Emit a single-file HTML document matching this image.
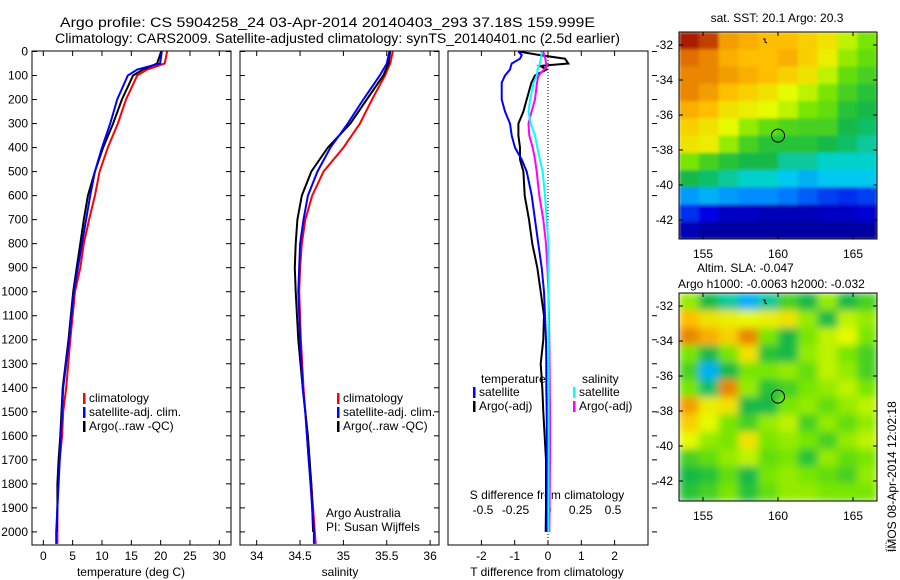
<!DOCTYPE html>
<html><head><meta charset="utf-8"><style>
body{margin:0;background:#fff;}
svg{display:block;font-family:"Liberation Sans",sans-serif;}
text{font-size:12px;fill:#000;}
</style></head><body>
<svg id="fig" width="900" height="580" viewBox="0 0 900 580">
<defs>
<filter id="blurS" x="0" y="0" width="1" height="1"><feGaussianBlur stdDeviation="1.5" edgeMode="duplicate"/></filter>
<filter id="blurL" x="0" y="0" width="1" height="1"><feGaussianBlur stdDeviation="4" edgeMode="duplicate"/></filter>
<clipPath id="clipm1"><rect x="679" y="32" width="198" height="207"/></clipPath>
<clipPath id="clipm2"><rect x="679" y="293" width="198" height="208"/></clipPath>
</defs>
<text x="60" y="27" style="font-size:13.5px" textLength="535" lengthAdjust="spacingAndGlyphs">Argo profile: CS 5904258_24 03-Apr-2014 20140403_293 37.18S 159.999E</text>
<text x="55" y="43" style="font-size:13.5px" textLength="565" lengthAdjust="spacingAndGlyphs">Climatology: CARS2009. Satellite-adjusted climatology: synTS_20140401.nc (2.5d earlier)</text>
<g id="p1"></g>
<g id="p2"></g>
<g id="p3"></g>
<g id="m1"></g>
<g id="m2"></g>
<text transform="translate(896,552) rotate(-90)" style="font-size:12px">IMOS 08-Apr-2014 12:02:18</text>
<rect x="886" y="542" width="8" height="9" fill="none" stroke="#000" stroke-width="0.7" stroke-dasharray="1,1"/>
</svg>
<script>
// ---- data ----
const depths = [0,50,75,100,200,300,400,500,600,700,800,900,1000,1200,1400,1500,1600,1700,1800,1900,2000,2050];
const tClim = [21.1,20.7,17.7,16.0,14.1,12.7,11.0,9.6,8.8,7.8,6.9,6.3,5.4,4.6,3.9,3.4,3.2,2.8,2.5,2.4,2.4,2.4];
const tSat  = [20.2,19.9,16.0,14.4,12.6,11.4,10.0,8.8,8.0,7.3,6.6,5.9,5.2,4.4,3.4,3.2,3.0,2.8,2.6,2.4,2.2,2.2];
const tArgo = [20.1,19.4,17.0,15.3,13.4,11.9,10.2,8.8,7.6,6.9,6.3,5.7,5.1,4.3,3.3,3.1,2.9,2.6,2.4,2.4,2.3,2.3];
const sClim = [35.57,35.54,35.51,35.48,35.33,35.19,35.0,34.77,34.64,34.56,34.52,34.50,34.49,34.51,34.54,34.56,34.58,34.60,34.63,34.65,34.67,34.68];
const sSat  = [35.53,35.50,35.46,35.42,35.23,35.05,34.85,34.70,34.59,34.54,34.50,34.49,34.48,34.50,34.53,34.56,34.58,34.60,34.62,34.64,34.66,34.66];
const sArgo = [35.54,35.52,35.49,35.46,35.27,35.08,34.82,34.63,34.52,34.47,34.45,34.44,34.45,34.48,34.53,34.56,34.59,34.61,34.63,34.64,34.65,34.65];
const dDepths = [0,15,30,50,60,75,100,130,200,250,300,350,400,450,500,600,700,800,900,1000,1100,1200,1300,1400,1500,1700,1900,2000];
const dTSat  = [-0.89,-0.79,-0.84,-1.09,-1.11,-1.14,-1.29,-1.39,-1.39,-1.29,-1.14,-1.09,-0.99,-0.79,-0.64,-0.49,-0.39,-0.29,-0.19,-0.12,-0.09,-0.06,-0.05,-0.05,-0.04,-0.03,-0.02,-0.02];
const dTArgo = [-0.89,-0.24,0.51,0.61,-0.24,-0.04,-0.39,-0.5,-0.64,-0.74,-0.89,-0.89,-0.84,-0.84,-0.74,-0.70,-0.57,-0.47,-0.32,-0.22,-0.12,-0.14,-0.22,-0.17,-0.14,-0.06,-0.06,-0.07];
const dSSat  = [-0.049,-0.05,-0.055,-0.062,-0.07,-0.08,-0.087,-0.11,-0.138,-0.15,-0.133,-0.1,-0.082,-0.062,-0.041,-0.023,-0.010,0.003,0.003,0.005,0.005,0.005,0.005,0.005,0.005,0.005,0.003,0.003];
const dSArgo = [-0.036,-0.03,-0.02,-0.015,-0.005,-0.03,-0.074,-0.085,-0.1,-0.126,-0.15,-0.144,-0.118,-0.1,-0.087,-0.067,-0.036,-0.015,-0.005,0.003,0.008,0.01,0.012,0.014,0.015,0.015,0.012,0.01];
const depthTicks = [0,100,200,300,400,500,600,700,800,900,1000,1100,1200,1300,1400,1500,1600,1700,1800,1900,2000];
const tTicks = [0,5,10,15,20,25,30];
const sTicks = [34,34.5,35,35.5,36];
const dTTicks = [-2,-1,0,1,2];
const dSTicks = [-0.5,-0.25,0,0.25,0.5];
const dSTickLabels = ['-0.5','-0.25','0','0.25','0.5'];
const latTicks = [-32,-34,-36,-38,-40,-42];
const lonTicks = [155,160,165];
const sstGrid = [
[0.97,0.93,0.82,0.80,0.78,0.78,0.75,0.72,0.65,0.60],
[0.88,0.85,0.80,0.78,0.78,0.80,0.75,0.70,0.62,0.58],
[0.85,0.85,0.82,0.80,0.78,0.75,0.72,0.65,0.58,0.55],
[0.85,0.82,0.78,0.75,0.72,0.68,0.65,0.60,0.55,0.52],
[0.80,0.78,0.72,0.70,0.68,0.65,0.60,0.58,0.52,0.50],
[0.75,0.72,0.68,0.62,0.58,0.56,0.55,0.55,0.50,0.48],
[0.72,0.70,0.62,0.55,0.52,0.52,0.52,0.50,0.48,0.45],
[0.60,0.55,0.52,0.50,0.50,0.45,0.45,0.42,0.42,0.42],
[0.50,0.48,0.45,0.42,0.42,0.38,0.35,0.38,0.38,0.38],
[0.32,0.35,0.32,0.30,0.30,0.28,0.25,0.22,0.20,0.22],
[0.20,0.15,0.10,0.10,0.08,0.08,0.08,0.10,0.10,0.12],
[0.08,0.05,0.05,0.05,0.05,0.05,0.05,0.05,0.05,0.05]];
const slaGrid = [
[0.62,0.50,0.45,0.35,0.45,0.55,0.50,0.62,0.50,0.55],
[0.78,0.72,0.70,0.68,0.70,0.72,0.62,0.50,0.65,0.62],
[0.85,0.80,0.75,0.85,0.60,0.50,0.60,0.65,0.68,0.60],
[0.60,0.50,0.60,0.72,0.52,0.50,0.62,0.65,0.60,0.55],
[0.55,0.35,0.50,0.60,0.60,0.62,0.58,0.65,0.62,0.55],
[0.60,0.48,0.85,0.62,0.52,0.55,0.60,0.62,0.65,0.60],
[0.82,0.70,0.72,0.50,0.50,0.60,0.62,0.58,0.62,0.65],
[0.75,0.68,0.60,0.55,0.62,0.65,0.55,0.62,0.58,0.62],
[0.68,0.62,0.60,0.72,0.60,0.62,0.60,0.55,0.62,0.65],
[0.55,0.58,0.62,0.65,0.58,0.60,0.52,0.62,0.58,0.60],
[0.50,0.52,0.58,0.50,0.60,0.62,0.60,0.58,0.55,0.62],
[0.52,0.55,0.60,0.52,0.58,0.62,0.62,0.60,0.60,0.60]];
const argoLon = 160.0, argoLat = -37.18;

// ---- helpers ----
const NS='http://www.w3.org/2000/svg';
function mk(parent, tag, attrs){const e=document.createElementNS(NS,tag);for(const k in attrs)e.setAttribute(k,attrs[k]);parent.appendChild(e);return e;}
function txt(parent,x,y,s,anchor){const e=mk(parent,'text',{x:x,y:y,'text-anchor':anchor||'start'});e.textContent=s;return e;}
const yD = d => 51.5 + d*0.2402;
const xT = t => 43.3 + t*5.867;
const xS = s => 256.7 + (s-34)*86.7;
const xdT = t => 548 + t*33.3;
const xdS = s => 548 + s*130;
const TOP=51, BOT=545;

function frame(g,x0,x1,name){
  const r=mk(g,'rect',{x:x0,y:TOP,width:x1-x0,height:BOT-TOP,fill:'none',stroke:'#000','stroke-width':1});
  
  
  depthTicks.forEach(d=>{const y=yD(d);
    mk(g,'line',{x1:x0,x2:x0+5,y1:y,y2:y,stroke:'#000'});
    mk(g,'line',{x1:x1-5,x2:x1,y1:y,y2:y,stroke:'#000'});});
}
function line(g,xs,ys,xf,color,name){
  const pts=xs.map((v,i)=>xf(v).toFixed(1)+','+yD(ys[i]).toFixed(1)).join(' ');
  const p=mk(g,'polyline',{points:pts,fill:'none',stroke:color,'stroke-width':2});
  
  
}
function legend(g,x,y,items){
  items.forEach((it,i)=>{
    mk(g,'rect',{x:x,y:y+i*14-9,width:2.5,height:11,fill:it[0]});
    const t=txt(g,x+6,y+i*14,it[1]);
    
    
  });
}

// ---- panel 1 ----
const p1=document.getElementById('p1');
frame(p1,32,231,'temperature-axes');
depthTicks.forEach(d=>{const t=txt(p1,28,yD(d)+4,String(d),'end');
  
  });
tTicks.forEach(v=>{const x=xT(v);
  mk(p1,'line',{x1:x,x2:x,y1:BOT,y2:BOT-5,stroke:'#000'});
  mk(p1,'line',{x1:x,x2:x,y1:TOP,y2:TOP+5,stroke:'#000'});
  const t=txt(p1,x,560,String(v),'middle');
  
  });
const xl1=txt(p1,131,576,'temperature (deg C)','middle');


line(p1,tClim,depths,xT,'#ff0000','temp-climatology-line');
line(p1,tArgo,depths.slice(0,21),xT,'#000','temp-argo-line');
line(p1,tSat,depths,xT,'#0000ff','temp-satellite-line');
legend(p1,83,402,[['#f00','climatology'],['#00f','satellite-adj. clim.'],['#000','Argo(..raw -QC)']]);

// ---- panel 2 ----
const p2=document.getElementById('p2');
frame(p2,240,439,'salinity-axes');
sTicks.forEach(v=>{const x=xS(v);
  mk(p2,'line',{x1:x,x2:x,y1:BOT,y2:BOT-5,stroke:'#000'});
  mk(p2,'line',{x1:x,x2:x,y1:TOP,y2:TOP+5,stroke:'#000'});
  const t=txt(p2,x,560,String(v),'middle');
  
  });
const xl2=txt(p2,340,576,'salinity','middle');


line(p2,sClim,depths,xS,'#ff0000','sal-climatology-line');
line(p2,sArgo,depths.slice(0,21),xS,'#000','sal-argo-line');
line(p2,sSat,depths,xS,'#0000ff','sal-satellite-line');
legend(p2,337,402,[['#f00','climatology'],['#00f','satellite-adj. clim.'],['#000','Argo(..raw -QC)']]);
const aa=txt(p2,326,517,'Argo Australia');
const pi=txt(p2,326,531,'PI: Susan Wijffels');

// ---- panel 3 ----
const p3=document.getElementById('p3');
const r3=mk(p3,'rect',{x:448,y:TOP,width:200,height:BOT-TOP,fill:'none',stroke:'#000'});


depthTicks.forEach(d=>{const y=yD(d);
  if(d<=600||d>=1100) mk(p3,'line',{x1:652,x2:657,y1:y,y2:y,stroke:'#000'});});
mk(p3,'line',{x1:548,x2:548,y1:TOP,y2:BOT,stroke:'#000','stroke-dasharray':'1,2'});
dTTicks.forEach(v=>{const x=xdT(v);
  mk(p3,'line',{x1:x,x2:x,y1:BOT,y2:BOT-5,stroke:'#000'});
  mk(p3,'line',{x1:x,x2:x,y1:TOP,y2:TOP+5,stroke:'#000'});
  const t=txt(p3,x,560,String(v),'middle');
  
  });
dSTicks.forEach((v,i)=>{const t=txt(p3,xdS(v),514,dSTickLabels[i],'middle');
  
  });
const sdt=txt(p3,547,499,'S difference from climatology','middle');

const tdt=txt(p3,547,576,'T difference from climatology','middle');

line(p3,dTArgo,dDepths,xdT,'#000','tdiff-argo-line');
line(p3,dTSat,dDepths,xdT,'#0000ff','tdiff-satellite-line');
line(p3,dSArgo,dDepths,xdS,'#ff00ff','sdiff-argo-line');
line(p3,dSSat,dDepths,xdS,'#00ffff','sdiff-satellite-line');
const th=txt(p3,481,383,'temperature');
const sh=txt(p3,582,383,'salinity');
legend(p3,473,396,[['#00f','satellite'],['#000','Argo(-adj)']]);
legend(p3,573,396,[['#0ff','satellite'],['#f0f','Argo(-adj)']]);

// ---- maps ----
const stops=[[0,[0,0,128]],[0.15,[0,0,230]],[0.3,[0,140,255]],[0.4,[0,215,235]],[0.5,[20,185,70]],[0.6,[120,230,0]],[0.68,[230,250,0]],[0.78,[255,190,0]],[0.88,[225,110,0]],[1,[150,0,0]]];
function cmap(v){for(let i=1;i<stops.length;i++){if(v<=stops[i][0]){const a=stops[i-1],b=stops[i],f=(v-a[0])/(b[0]-a[0]);
  return 'rgb('+a[1].map((c,k)=>Math.round(c+(b[1][k]-c)*f)).join(',')+')';}}return 'rgb(150,0,0)';}
function map(id,grid,y0,y1,titleLines,filt){
  const g=document.getElementById(id);
  const x0=679,x1=877;
  const yLat=lat=>y0+13+(-32-lat)*17.5;
  const xLon=lon=>703+(lon-155)*15;
  const clipG=mk(g,'g',{'clip-path':'url(#clip'+id+')'});
  const cellsG=mk(clipG,'g',{filter:'url(#'+filt+')'});
  const rows=grid.length,cols=grid[0].length,cw=(x1-x0)/cols,ch=(y1-y0)/rows;
  grid.forEach((row,r)=>row.forEach((v,c)=>{
    const cell=mk(cellsG,'rect',{x:(x0+c*cw).toFixed(2),y:(y0+r*ch).toFixed(2),width:(cw+0.6).toFixed(2),height:(ch+0.6).toFixed(2),fill:cmap(v)});
    
    
  }));
  const fr=mk(g,'rect',{x:x0,y:y0,width:x1-x0,height:y1-y0,fill:'none',stroke:'#000'});
  
  
  latTicks.forEach(l=>{const y=yLat(l);
    mk(g,'line',{x1:x0,x2:x0+4,y1:y,y2:y,stroke:'#000'});
    mk(g,'line',{x1:x1-4,x2:x1,y1:y,y2:y,stroke:'#000'});
    const t=txt(g,673,y+4,String(l),'end');
    
    });
  lonTicks.forEach(l=>{const x=xLon(l);
    mk(g,'line',{x1:x,x2:x,y1:y1,y2:y1-4,stroke:'#000'});
    mk(g,'line',{x1:x,x2:x,y1:y0,y2:y0+4,stroke:'#000'});
    const t=txt(g,x,y1+19,String(l),'middle');
    
    });
  const c=mk(g,'circle',{cx:xLon(argoLon),cy:yLat(argoLat),r:6.5,fill:'none',stroke:'#000','stroke-width':1});
  
  
  mk(g,'path',{d:'M763 '+(y0+7)+' l2 0 l0 3 l2 1',fill:'none',stroke:'#000'});
  titleLines.forEach(tl=>{const t=txt(g,tl[0],tl[1],tl[2],tl[3]);
    
    });
}
map('m1',sstGrid,32,239,[[777,22,'sat. SST: 20.1  Argo: 20.3','middle']],'blurS');
map('m2',slaGrid,293,501,[[697,272,'Altim. SLA: -0.047','start'],[678,288,'Argo h1000: -0.0063 h2000: -0.032','start']],'blurL');
</script>
</body></html>
